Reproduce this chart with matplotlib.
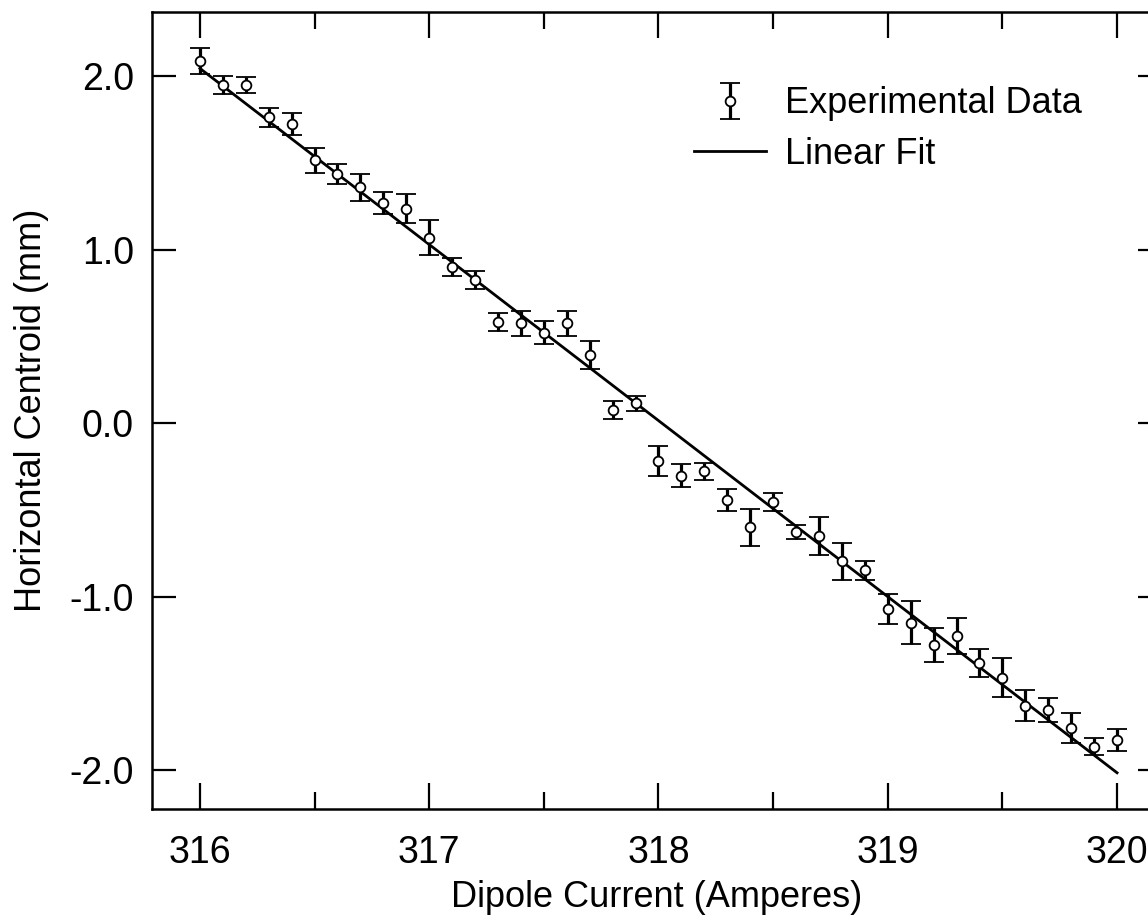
import matplotlib
matplotlib.use("Agg")
import matplotlib.pyplot as plt
from matplotlib.ticker import MultipleLocator

plt.rcParams['font.family'] = ['Liberation Sans', 'DejaVu Sans']

# dipole scan: current (A), centroid (mm), uncertainty (mm)
current = [316.0, 316.1, 316.2, 316.3, 316.4, 316.5, 316.6, 316.7, 316.8, 316.9,
           317.0, 317.1, 317.2, 317.3, 317.4, 317.5, 317.6, 317.7, 317.8, 317.9,
           318.0, 318.1, 318.2, 318.3, 318.4, 318.5, 318.6, 318.7, 318.8, 318.9,
           319.0, 319.1, 319.2, 319.3, 319.4, 319.5, 319.6, 319.7, 319.8, 319.9,
           320.0]
centroid = [2.087, 1.948, 1.948, 1.762, 1.723, 1.515, 1.434, 1.358, 1.267, 1.236,
            1.069, 0.899, 0.822, 0.582, 0.574, 0.521, 0.574, 0.391, 0.075, 0.113,
            -0.220, -0.303, -0.278, -0.442, -0.601, -0.457, -0.628, -0.653, -0.798, -0.849,
            -1.072, -1.150, -1.279, -1.227, -1.384, -1.467, -1.629, -1.654, -1.759, -1.865,
            -1.827]
error = [0.075, 0.050, 0.045, 0.055, 0.065, 0.072, 0.058, 0.078, 0.063, 0.085,
         0.100, 0.050, 0.052, 0.053, 0.072, 0.065, 0.072, 0.079, 0.052, 0.045,
         0.087, 0.065, 0.048, 0.063, 0.105, 0.053, 0.040, 0.110, 0.108, 0.055,
         0.087, 0.125, 0.098, 0.105, 0.079, 0.110, 0.089, 0.068, 0.085, 0.048,
         0.065]

# linear fit y = fit_y0 + fit_slope * (I - fit_x0)
fit_x = [316.0, 320.0]
fit_x0 = 316.0
fit_y0 = 2.044
fit_slope = -1.015
fit_y = [fit_y0 + fit_slope * (x - fit_x0) for x in fit_x]

fig = plt.figure(figsize=(11.48, 9.15), dpi=100)
# right spine sits just past the figure edge
ax = fig.add_axes([0.1324, 0.1158, 0.8798, 0.8707])

eb = ax.errorbar(current, centroid, yerr=error, fmt='o', color='black',
                 mfc='white', mec='black', ms=7, mew=1.3,
                 elinewidth=2.3, capsize=7, capthick=3.0,
                 label='Experimental Data')
fit_line, = ax.plot(fit_x, fit_y, color='black', lw=2.0, label='Linear Fit')

ax.set_xlim(315.791, 320.196)
ax.set_ylim(-2.225, 2.367)

ax.xaxis.set_major_locator(MultipleLocator(1))
ax.xaxis.set_minor_locator(MultipleLocator(0.5))
ax.set_yticks([-2, -1, 0, 1, 2])
ax.set_yticklabels(['-2.0', '-1.0', '0.0', '1.0', '2.0'])

ax.tick_params(axis='both', which='both', direction='in', top=True, right=True,
               width=1.6, labelsize=27)
ax.tick_params(axis='x', which='major', length=19, pad=19)
ax.tick_params(axis='x', which='minor', length=12)
ax.tick_params(axis='y', which='major', length=17, pad=13)
for sp in ax.spines.values():
    sp.set_linewidth(1.8)

ax.set_xlabel('Dipole Current (Amperes)', fontsize=26, labelpad=6)
ax.set_ylabel('Horizontal Centroid (mm)', fontsize=26, labelpad=15)

ax.legend(handles=[eb, fit_line], loc='upper right', bbox_to_anchor=(0.971, 0.941),
          bbox_transform=fig.transFigure, frameon=False, fontsize=26,
          handlelength=2.0, handletextpad=0.53, labelspacing=0.42)

fig.savefig('out.png', dpi=100)
